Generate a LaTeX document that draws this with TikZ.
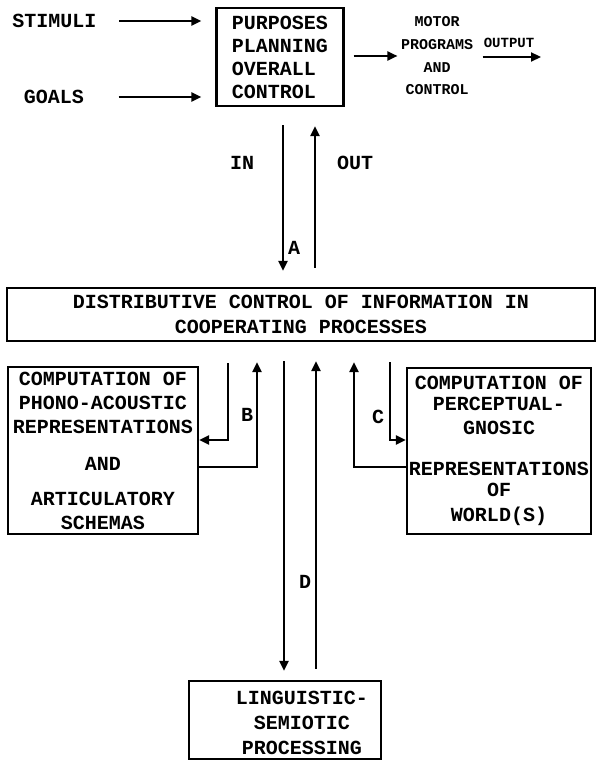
\documentclass[tikz,border=0pt]{standalone}
\usepackage{fontspec}
\setmonofont{Liberation Mono}
\usetikzlibrary{arrows.meta}
\tikzset{
  ink/.style={line width=2.2pt},
  arr/.style={ink, -{Triangle[length=10pt,width=9pt]}},
  box/.style={draw, line width=2.3pt, inner sep=2pt},
  tw/.style={font=\ttfamily\bfseries\fontsize{20}{24}\selectfont},
  tws/.style={font=\ttfamily\bfseries\fontsize{15}{22.7}\selectfont},
  lbl/.style={tw, inner sep=1pt},
}
\begin{document}
\begin{tikzpicture}[x=1pt,y=-1pt]
\useasboundingbox (0,0) rectangle (608,762);

% inputs and the planning box
\node[tw] (stim) at (54.5,21) {STIMULI};
\node[tw] (goals) at (54,97) {GOALS};
\node[box, tw, align=left, minimum width=127pt, minimum height=98pt,
      font=\ttfamily\bfseries\fontsize{20}{23}\selectfont] (plan) at (280,57)
  {PURPOSES\\PLANNING\\OVERALL\\CONTROL};
\node[tws, align=center] (motor) at (437,56) {MOTOR\\PROGRAMS\\AND\\CONTROL};
\node[tws, inner sep=1pt, font=\ttfamily\bfseries\fontsize{14}{17}\selectfont] (outlbl) at (509,43) {OUTPUT};
\coordinate (outend) at (541,57);

\draw[arr, shorten <=19pt, shorten >=14pt] (stim.east) -- (stim.east -| plan.west);
\draw[arr, shorten <=31pt, shorten >=14pt] (goals.east) -- (goals.east -| plan.west);
\draw[arr, shorten <=9pt] (plan.east |- motor.east) -- (motor.west);
\draw[arr, shorten <=6pt] (motor.east |- outend) -- (outend);

% central distributive control
\node[box, tw, align=center, minimum width=588pt, minimum height=53pt,
      font=\ttfamily\bfseries\fontsize{20}{25}\selectfont] (dist) at (301,314.5)
  {DISTRIBUTIVE CONTROL OF INFORMATION IN\\COOPERATING PROCESSES};

% channel A (IN / OUT)
\coordinate (xin) at (283,0);
\coordinate (xout) at (315,0);
\draw[arr, shorten <=18pt, shorten >=16pt] (plan.south -| xin) -- (dist.north -| xin);
\draw[arr, shorten <=19pt, shorten >=19pt] (dist.north -| xout) -- (plan.south -| xout);
\node[lbl] (inlbl) at (242,163) {IN};
\node[lbl] (outA) at (355,163) {OUT};
\node[lbl] (albl) at (294,248) {A};

% side processors
\node[box, tw, align=center, minimum width=190pt, minimum height=167pt] (phono) at (103,450.5)
  {COMPUTATION OF\\PHONO-ACOUSTIC\\REPRESENTATIONS\\[13pt]AND\\[11pt]ARTICULATORY\\SCHEMAS};
\node[box, tw, align=center, minimum width=184pt, minimum height=166pt] (percep) at (499,451)
  {COMPUTATION OF\\[-3pt]PERCEPTUAL-\\GNOSIC\\[17pt]REPRESENTATIONS\\[-3pt]OF\\[1pt]WORLD(S)};

% channel B
\coordinate (bdown) at (228,440);
\coordinate (bup) at (257,467);
\draw[arr, shorten <=21pt] (dist.south -| bdown) -- (bdown) -- (phono.east |- bdown);
\draw[arr, shorten >=20pt] (phono.east |- bup) -- (bup) -- (dist.south -| bup);
\node[lbl] (blbl) at (247,415) {B};

% channel C
\coordinate (cup) at (354,467);
\coordinate (cdown) at (390,440);
\draw[arr, shorten >=20pt] (percep.west |- cup) -- (cup) -- (dist.south -| cup);
\draw[arr, shorten <=20pt] (dist.south -| cdown) -- (cdown) -- (percep.west |- cdown);
\node[lbl] (clbl) at (378,417) {C};

% linguistic-semiotic processing and channel D
\node[box, minimum width=192pt, minimum height=78pt] (ling) at (285,720) {};
\node[tw, align=center, font=\ttfamily\bfseries\fontsize{20}{25}\selectfont] (lingtxt) at (302,723)
  {LINGUISTIC-\\SEMIOTIC\\PROCESSING};
\coordinate (xdl) at (284,0);
\coordinate (xdr) at (316,0);
\draw[arr, shorten <=19pt, shorten >=9pt] (dist.south -| xdl) -- (ling.north -| xdl);
\draw[arr, shorten <=11pt, shorten >=19pt] (ling.north -| xdr) -- (dist.south -| xdr);
\node[lbl] (dlbl) at (305,582) {D};
\end{tikzpicture}
\end{document}
